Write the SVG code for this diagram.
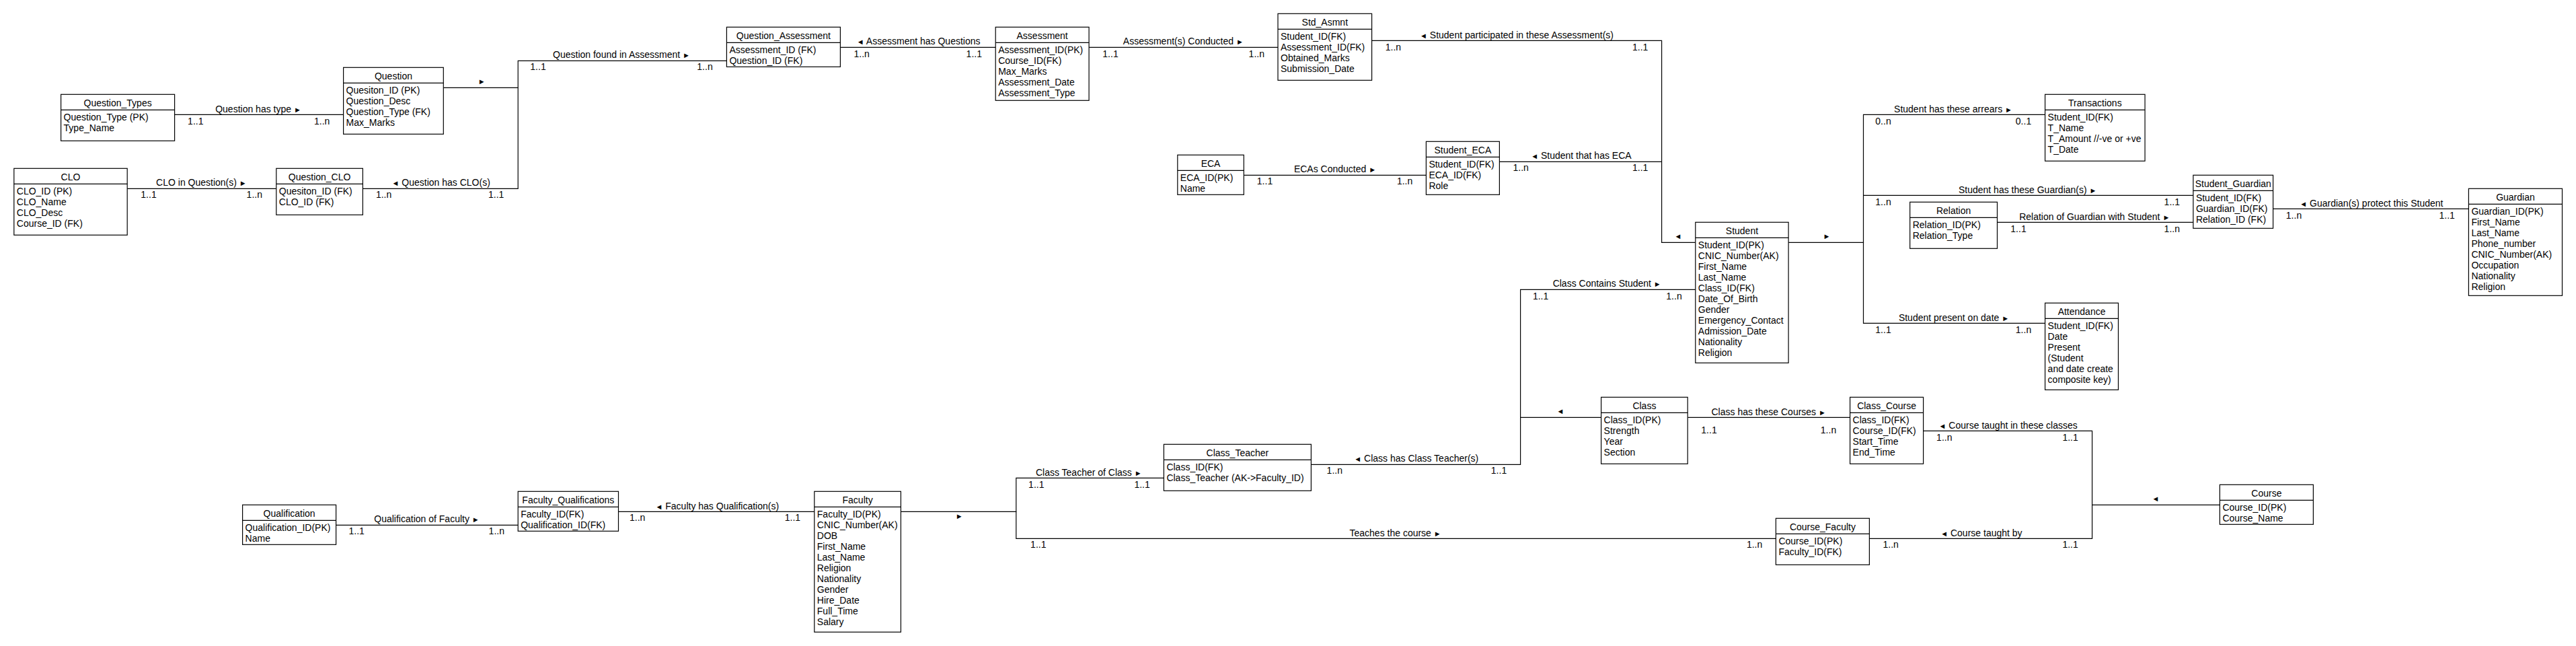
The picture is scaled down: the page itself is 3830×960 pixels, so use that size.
<svg xmlns="http://www.w3.org/2000/svg" width="3830" height="960" viewBox="0 0 3830 960">
<style>
.b{fill:#fff;stroke:#000;stroke-width:1.2}
.l{stroke:#000;stroke-width:1.2}
text{font-family:"Liberation Sans",Arial,sans-serif;font-size:14px;fill:#000}
.h,.m,.lb{text-anchor:middle}
.c path{fill:none;stroke:#000;stroke-width:1.2}
.a{font-size:11px}
</style>
<rect width="3830" height="960" fill="#fff"/>
<g id="connectors" class="c">
<path d="M259.6 170.3H510.6"/>
<text class="lb" x="384" y="166.7">Question has type <tspan class="a">►</tspan></text>
<text class="m" x="290.8" y="185">1..1</text><text class="m" x="478.7" y="185">1..n</text>
<path d="M189.2 280.3H410.8"/>
<text class="lb" x="299.4" y="276">CLO in Question(s) <tspan class="a">►</tspan></text>
<text class="m" x="221" y="294.3">1..1</text><text class="m" x="378.3" y="294.3">1..n</text>
<path d="M539.4 280.3H770.2V90.3H1080.4"/>
<text class="lb" x="655.7" y="276"><tspan class="a">◄</tspan> Question has CLO(s)</text>
<text class="m" x="570.6" y="294.3">1..n</text><text class="m" x="737.7" y="294.3">1..1</text>
<text class="lb" x="924" y="86.3">Question found in Assessment <tspan class="a">►</tspan></text>
<text class="m" x="800" y="104.3">1..1</text><text class="m" x="1048" y="104.3">1..n</text>
<path d="M659.3 130.3H770.2"/>
<text class="lb a" x="716.3" y="125">►</text>
<path d="M1249.4 70.3H1480.2"/>
<text class="lb" x="1365.7" y="66.3"><tspan class="a">◄</tspan> Assessment has Questions</text>
<text class="m" x="1281.2" y="84.7">1..n</text><text class="m" x="1448.3" y="84.7">1..1</text>
<path d="M1619.1 70.3H1900"/>
<text class="lb" x="1759.3" y="66.3">Assessment(s) Conducted <tspan class="a">►</tspan></text>
<text class="m" x="1651" y="84.7">1..1</text><text class="m" x="1868.3" y="84.7">1..n</text>
<path d="M2039.6 60.3H2470.6V360.3H2520.8"/>
<text class="lb" x="2255" y="56.7"><tspan class="a">◄</tspan> Student participated in these Assessment(s)</text>
<text class="m" x="2071.4" y="75">1..n</text><text class="m" x="2438.7" y="75">1..1</text>
<text class="lb a" x="2495" y="354.5">◄</text>
<path d="M1849.3 260.3H2120.4"/>
<text class="lb" x="1985" y="256">ECAs Conducted <tspan class="a">►</tspan></text>
<text class="m" x="1880.5" y="274.3">1..1</text><text class="m" x="2088.6" y="274.3">1..n</text>
<path d="M2229.4 240.3H2470.6"/>
<text class="lb" x="2350.9" y="236"><tspan class="a">◄</tspan> Student that has ECA</text>
<text class="m" x="2261.2" y="254.3">1..n</text><text class="m" x="2438.7" y="254.3">1..1</text>
<path d="M2659.1 360.3H2770.5V170.3H3040.6"/>
<text class="lb a" x="2716" y="354.5">►</text>
<text class="lb" x="2904" y="166.7">Student has these arrears <tspan class="a">►</tspan></text>
<text class="m" x="2800" y="184.7">0..n</text><text class="m" x="3008.5" y="185">0..1</text>
<path d="M2770.5 290.3H3260.9"/>
<text class="lb" x="3014.7" y="286.7">Student has these Guardian(s) <tspan class="a">►</tspan></text>
<text class="m" x="2800" y="304.7">1..n</text><text class="m" x="3229.3" y="304.7">1..1</text>
<path d="M2770.5 360.3V480.3H3040.6"/>
<text class="lb" x="2905" y="476.7">Student present on date <tspan class="a">►</tspan></text>
<text class="m" x="2800" y="495">1..1</text><text class="m" x="3008.5" y="495">1..n</text>
<path d="M2969.5 330.3H3260.9"/>
<text class="lb" x="3114.2" y="326.7">Relation of Guardian with Student <tspan class="a">►</tspan></text>
<text class="m" x="3001" y="345">1..1</text><text class="m" x="3229.3" y="345">1..n</text>
<path d="M3379.6 310.3H3670.4"/>
<text class="lb" x="3525.9" y="306.7"><tspan class="a">◄</tspan> Guardian(s) protect this Student</text>
<text class="m" x="3410.5" y="325">1..n</text><text class="m" x="3638.2" y="325">1..1</text>
<path d="M499.6 780.3H770.2"/>
<text class="lb" x="634.5" y="776">Qualification of Faculty <tspan class="a">►</tspan></text>
<text class="m" x="530.2" y="794.3">1..1</text><text class="m" x="738.3" y="794.3">1..n</text>
<path d="M919.5 760.3H1210.8"/>
<text class="lb" x="1066.3" y="756.7"><tspan class="a">◄</tspan> Faculty has Qualification(s)</text>
<text class="m" x="947.7" y="774.3">1..n</text><text class="m" x="1178.4" y="774.3">1..1</text>
<path d="M1339.4 760.3H1510.8V710.3H1730.4"/>
<text class="lb a" x="1426.3" y="770.5">►</text>
<text class="lb" x="1618.8" y="706.7">Class Teacher of Class <tspan class="a">►</tspan></text>
<text class="m" x="1540.8" y="724.7">1..1</text><text class="m" x="1698.1" y="724.7">1..1</text>
<path d="M1510.8 760.3V800.3H2640.4"/>
<text class="lb" x="2074.6" y="796.7">Teaches the course <tspan class="a">►</tspan></text>
<text class="m" x="1543.8" y="814.3">1..1</text><text class="m" x="2608.6" y="814.3">1..n</text>
<path d="M1949.4 690.3H2260.6V620.3H2380.6"/>
<text class="lb" x="2105.8" y="686.3"><tspan class="a">◄</tspan> Class has Class Teacher(s)</text>
<text class="m" x="1984.3" y="704.3">1..n</text><text class="m" x="2228.5" y="704.3">1..1</text>
<text class="lb a" x="2320" y="614.5">◄</text>
<path d="M2260.6 620.3V430.3H2520.8"/>
<text class="lb" x="2389.2" y="426">Class Contains Student <tspan class="a">►</tspan></text>
<text class="m" x="2290.6" y="444.7">1..1</text><text class="m" x="2489" y="444.7">1..n</text>
<path d="M2509.2 620.3H2750.6"/>
<text class="lb" x="2629.7" y="616.7">Class has these Courses <tspan class="a">►</tspan></text>
<text class="m" x="2541" y="644.3">1..1</text><text class="m" x="2718.5" y="644.3">1..n</text>
<path d="M2859.6 640.3H3110.6V750.3H3300.4"/>
<text class="lb" x="2985.7" y="636.7"><tspan class="a">◄</tspan> Course taught in these classes</text>
<text class="m" x="2890.8" y="655">1..n</text><text class="m" x="3078.1" y="655">1..1</text>
<text class="lb a" x="3204.9" y="744.5">◄</text>
<path d="M2779.4 800.3H3110.6V750.3"/>
<text class="lb" x="2945.9" y="796.7"><tspan class="a">◄</tspan> Course taught by</text>
<text class="m" x="2811.2" y="814.3">1..n</text><text class="m" x="3078.1" y="814.3">1..1</text>
</g>
<g id="question_types"><rect class="b" x="90.6" y="140.3" width="169" height="69"/><line class="l" x1="90.6" y1="163.3" x2="259.6" y2="163.3"/><text class="h" x="175.1" y="158.3">Question_Types</text><text x="94.6" y="179.3">Question_Type (PK)</text><text x="94.6" y="195.3">Type_Name</text></g>
<g id="question"><rect class="b" x="510.6" y="100.3" width="148.7" height="99"/><line class="l" x1="510.6" y1="123.3" x2="659.3" y2="123.3"/><text class="h" x="584.95" y="118.3">Question</text><text x="514.6" y="139.3">Quesiton_ID (PK)</text><text x="514.6" y="155.3">Question_Desc</text><text x="514.6" y="171.3">Question_Type (FK)</text><text x="514.6" y="187.3">Max_Marks</text></g>
<g id="clo"><rect class="b" x="20.8" y="250.3" width="168.4" height="99"/><line class="l" x1="20.8" y1="273.3" x2="189.2" y2="273.3"/><text class="h" x="105" y="268.3">CLO</text><text x="24.8" y="289.3">CLO_ID (PK)</text><text x="24.8" y="305.3">CLO_Name</text><text x="24.8" y="321.3">CLO_Desc</text><text x="24.8" y="337.3">Course_ID (FK)</text></g>
<g id="question_clo"><rect class="b" x="410.8" y="250.3" width="128.6" height="69"/><line class="l" x1="410.8" y1="273.3" x2="539.4" y2="273.3"/><text class="h" x="475.1" y="268.3">Question_CLO</text><text x="414.8" y="289.3">Quesiton_ID (FK)</text><text x="414.8" y="305.3">CLO_ID (FK)</text></g>
<g id="question_assessment"><rect class="b" x="1080.4" y="40.3" width="169" height="59"/><line class="l" x1="1080.4" y1="63.3" x2="1249.4" y2="63.3"/><text class="h" x="1164.9" y="58.3">Question_Assessment</text><text x="1084.4" y="79.3">Assessment_ID (FK)</text><text x="1084.4" y="95.3">Question_ID (FK)</text></g>
<g id="assessment"><rect class="b" x="1480.2" y="40.3" width="138.9" height="109"/><line class="l" x1="1480.2" y1="63.3" x2="1619.1" y2="63.3"/><text class="h" x="1549.65" y="58.3">Assessment</text><text x="1484.2" y="79.3">Assessment_ID(PK)</text><text x="1484.2" y="95.3">Course_ID(FK)</text><text x="1484.2" y="111.3">Max_Marks</text><text x="1484.2" y="127.3">Assessment_Date</text><text x="1484.2" y="143.3">Assessment_Type</text></g>
<g id="std_asmnt"><rect class="b" x="1900" y="20.3" width="139.6" height="99"/><line class="l" x1="1900" y1="43.3" x2="2039.6" y2="43.3"/><text class="h" x="1969.8" y="38.3">Std_Asmnt</text><text x="1904" y="59.3">Student_ID(FK)</text><text x="1904" y="75.3">Assessment_ID(FK)</text><text x="1904" y="91.3">Obtained_Marks</text><text x="1904" y="107.3">Submission_Date</text></g>
<g id="eca"><rect class="b" x="1750.8" y="230.3" width="98.5" height="59"/><line class="l" x1="1750.8" y1="253.3" x2="1849.3" y2="253.3"/><text class="h" x="1800.05" y="248.3">ECA</text><text x="1754.8" y="269.3">ECA_ID(PK)</text><text x="1754.8" y="285.3">Name</text></g>
<g id="student_eca"><rect class="b" x="2120.4" y="210.3" width="109" height="79"/><line class="l" x1="2120.4" y1="233.3" x2="2229.4" y2="233.3"/><text class="h" x="2174.9" y="228.3">Student_ECA</text><text x="2124.4" y="249.3">Student_ID(FK)</text><text x="2124.4" y="265.3">ECA_ID(FK)</text><text x="2124.4" y="281.3">Role</text></g>
<g id="student"><rect class="b" x="2520.8" y="330.3" width="138.3" height="209"/><line class="l" x1="2520.8" y1="353.3" x2="2659.1" y2="353.3"/><text class="h" x="2589.95" y="348.3">Student</text><text x="2524.8" y="369.3">Student_ID(PK)</text><text x="2524.8" y="385.3">CNIC_Number(AK)</text><text x="2524.8" y="401.3">First_Name</text><text x="2524.8" y="417.3">Last_Name</text><text x="2524.8" y="433.3">Class_ID(FK)</text><text x="2524.8" y="449.3">Date_Of_Birth</text><text x="2524.8" y="465.3">Gender</text><text x="2524.8" y="481.3">Emergency_Contact</text><text x="2524.8" y="497.3">Admission_Date</text><text x="2524.8" y="513.3">Nationality</text><text x="2524.8" y="529.3">Religion</text></g>
<g id="transactions"><rect class="b" x="3040.6" y="140.3" width="148.5" height="99"/><line class="l" x1="3040.6" y1="163.3" x2="3189.1" y2="163.3"/><text class="h" x="3114.85" y="158.3">Transactions</text><text x="3044.6" y="179.3">Student_ID(FK)</text><text x="3044.6" y="195.3">T_Name</text><text x="3044.6" y="211.3">T_Amount //-ve or +ve</text><text x="3044.6" y="227.3">T_Date</text></g>
<g id="relation"><rect class="b" x="2839.7" y="300.3" width="129.8" height="69"/><line class="l" x1="2839.7" y1="323.3" x2="2969.5" y2="323.3"/><text class="h" x="2904.6" y="318.3">Relation</text><text x="2843.7" y="339.3">Relation_ID(PK)</text><text x="2843.7" y="355.3">Relation_Type</text></g>
<g id="student_guardian"><rect class="b" x="3260.9" y="260.3" width="118.7" height="79"/><line class="l" x1="3260.9" y1="283.3" x2="3379.6" y2="283.3"/><text class="h" x="3320.25" y="278.3" textLength="113" lengthAdjust="spacingAndGlyphs">Student_Guardian</text><text x="3264.9" y="299.3">Student_ID(FK)</text><text x="3264.9" y="315.3">Guardian_ID(FK)</text><text x="3264.9" y="331.3">Relation_ID (FK)</text></g>
<g id="guardian"><rect class="b" x="3670.4" y="280.3" width="139.1" height="159"/><line class="l" x1="3670.4" y1="303.3" x2="3809.5" y2="303.3"/><text class="h" x="3739.95" y="298.3">Guardian</text><text x="3674.4" y="319.3">Guardian_ID(PK)</text><text x="3674.4" y="335.3">First_Name</text><text x="3674.4" y="351.3">Last_Name</text><text x="3674.4" y="367.3">Phone_number</text><text x="3674.4" y="383.3">CNIC_Number(AK)</text><text x="3674.4" y="399.3">Occupation</text><text x="3674.4" y="415.3">Nationality</text><text x="3674.4" y="431.3">Religion</text></g>
<g id="attendance"><rect class="b" x="3040.6" y="450.3" width="108.9" height="129"/><line class="l" x1="3040.6" y1="473.3" x2="3149.5" y2="473.3"/><text class="h" x="3095.05" y="468.3">Attendance</text><text x="3044.6" y="489.3">Student_ID(FK)</text><text x="3044.6" y="505.3">Date</text><text x="3044.6" y="521.3">Present</text><text x="3044.6" y="537.3">(Student</text><text x="3044.6" y="553.3">and date create</text><text x="3044.6" y="569.3">composite key)</text></g>
<g id="qualification"><rect class="b" x="360.6" y="750.3" width="139" height="59"/><line class="l" x1="360.6" y1="773.3" x2="499.6" y2="773.3"/><text class="h" x="430.1" y="768.3">Qualification</text><text x="364.6" y="789.3">Qualification_ID(PK)</text><text x="364.6" y="805.3">Name</text></g>
<g id="faculty_qualifications"><rect class="b" x="770.2" y="730.3" width="149.3" height="59"/><line class="l" x1="770.2" y1="753.3" x2="919.5" y2="753.3"/><text class="h" x="844.85" y="748.3">Faculty_Qualifications</text><text x="774.2" y="769.3">Faculty_ID(FK)</text><text x="774.2" y="785.3">Qualification_ID(FK)</text></g>
<g id="faculty"><rect class="b" x="1210.8" y="730.3" width="128.6" height="209"/><line class="l" x1="1210.8" y1="753.3" x2="1339.4" y2="753.3"/><text class="h" x="1275.1" y="748.3">Faculty</text><text x="1214.8" y="769.3">Faculty_ID(PK)</text><text x="1214.8" y="785.3">CNIC_Number(AK)</text><text x="1214.8" y="801.3">DOB</text><text x="1214.8" y="817.3">First_Name</text><text x="1214.8" y="833.3">Last_Name</text><text x="1214.8" y="849.3">Religion</text><text x="1214.8" y="865.3">Nationality</text><text x="1214.8" y="881.3">Gender</text><text x="1214.8" y="897.3">Hire_Date</text><text x="1214.8" y="913.3">Full_Time</text><text x="1214.8" y="929.3">Salary</text></g>
<g id="class_teacher"><rect class="b" x="1730.4" y="660.3" width="219" height="69"/><line class="l" x1="1730.4" y1="683.3" x2="1949.4" y2="683.3"/><text class="h" x="1839.9" y="678.3">Class_Teacher</text><text x="1734.4" y="699.3">Class_ID(FK)</text><text x="1734.4" y="715.3">Class_Teacher (AK-&gt;Faculty_ID)</text></g>
<g id="class"><rect class="b" x="2380.6" y="590.3" width="128.6" height="99"/><line class="l" x1="2380.6" y1="613.3" x2="2509.2" y2="613.3"/><text class="h" x="2444.9" y="608.3">Class</text><text x="2384.6" y="629.3">Class_ID(PK)</text><text x="2384.6" y="645.3">Strength</text><text x="2384.6" y="661.3">Year</text><text x="2384.6" y="677.3">Section</text></g>
<g id="class_course"><rect class="b" x="2750.6" y="590.3" width="109" height="99"/><line class="l" x1="2750.6" y1="613.3" x2="2859.6" y2="613.3"/><text class="h" x="2805.1" y="608.3">Class_Course</text><text x="2754.6" y="629.3">Class_ID(FK)</text><text x="2754.6" y="645.3">Course_ID(FK)</text><text x="2754.6" y="661.3">Start_Time</text><text x="2754.6" y="677.3">End_Time</text></g>
<g id="course_faculty"><rect class="b" x="2640.4" y="770.3" width="139" height="69"/><line class="l" x1="2640.4" y1="793.3" x2="2779.4" y2="793.3"/><text class="h" x="2709.9" y="788.3">Course_Faculty</text><text x="2644.4" y="809.3">Course_ID(PK)</text><text x="2644.4" y="825.3">Faculty_ID(FK)</text></g>
<g id="course"><rect class="b" x="3300.4" y="720.3" width="139" height="59"/><line class="l" x1="3300.4" y1="743.3" x2="3439.4" y2="743.3"/><text class="h" x="3369.9" y="738.3">Course</text><text x="3304.4" y="759.3">Course_ID(PK)</text><text x="3304.4" y="775.3">Course_Name</text></g>
</svg>
